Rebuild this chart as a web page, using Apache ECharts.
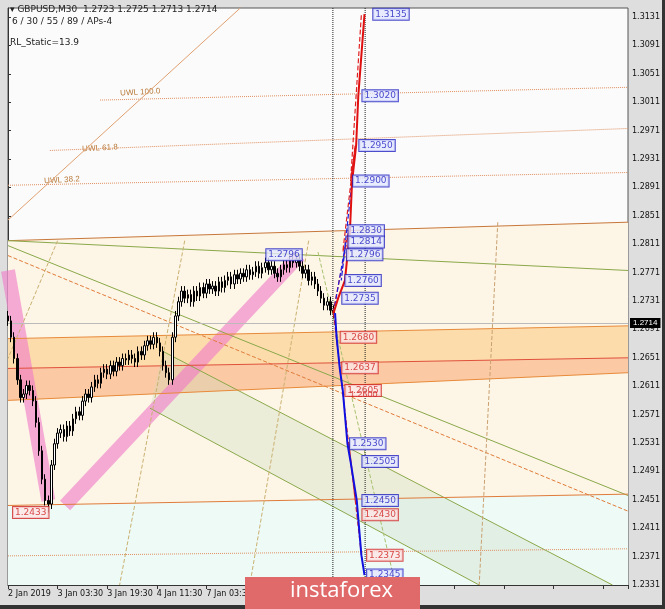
<!DOCTYPE html>
<html><head><meta charset="utf-8">
<script src="https://cdn.jsdelivr.net/npm/echarts@6/dist/echarts.min.js"></script>
<style>html,body{margin:0;padding:0;background:#dedede;}#c{width:665px;height:609px;}</style>
</head><body><div id="c"></div>
<script>
// ---- data ----
const closes = [1.2703,1.2680,1.2650,1.2620,1.2595,1.2600,1.2612,1.2605,1.2590,1.2560,1.2520,1.2480,1.2450,1.2445,
1.2500,1.2530,1.2545,1.2550,1.2540,1.2555,1.2548,1.2565,1.2575,1.2570,1.2590,
1.2600,1.2595,1.2610,1.2620,1.2615,1.2630,1.2635,1.2628,1.2640,1.2632,1.2645,1.2640,1.2650,1.2648,1.2655,
1.2650,1.2645,1.2660,1.2655,1.2668,1.2675,1.2670,1.2680,1.2672,1.2660,1.2640,1.2630,1.2620,
1.2680,1.2710,1.2730,1.2745,1.2735,1.2740,1.2730,1.2745,1.2738,1.2750,1.2742,1.2755,1.2748,1.2752,
1.2745,1.2758,1.2750,1.2760,1.2765,1.2755,1.2768,1.2762,1.2770,1.2765,
1.2775,1.2768,1.2772,1.2780,1.2770,1.2778,1.2785,1.2775,1.2780,1.2770,
1.2765,1.2775,1.2782,1.2778,1.2788,1.2785,1.2790,1.2780,1.2770,1.2775,1.2760,1.2765,1.2755,
1.2745,1.2735,1.2725,1.2730,1.2718,1.2714];
const firstOpen = 1.2710;
const lowIdx = 13, lowValue = 1.2433, highIdx = 93, highValue = 1.2796;
const xTickLabels = ['2 Jan 2019','3 Jan 03:30','3 Jan 19:30','4 Jan 11:30','7 Jan 03:30','7 Jan 19:30','8 Jan 11:30','9 Jan 03:30'];
const currentPrice = 1.2714;

const brownLine = [[0,1.2816],[200,1.2842]];
const greenLine1 = [[0,1.2816],[200,1.2774]];
const greenLine2 = [[0,1.2809],[200,1.2457]];
const greenLine3 = [[45.8,1.2580],[152,1.2331]];
const greenLine4 = [[50,1.2660],[195,1.2331]];
const orangeDash = [[0,1.2795],[200,1.2435]];
const orangeBottom = [[0,1.2443],[200,1.2459]];
const orangeDiag = [[0,1.2845],[75,1.3144]];
const bandTop = [[0,1.2678],[200,1.2696]];
const bandMid = [[0,1.2636],[200,1.2651]];
const bandBot = [[0,1.2591],[200,1.2630]];
const uwl100 = [[29.7,1.3014],[200,1.3032]];
const uwl618 = [[13.5,1.2943],[200,1.2974]];
const uwl382 = [[0,1.2894],[200,1.2912]];
const lwl382 = [[0,1.2372],[200,1.2382]];
const fan1 = [[57,1.2816],[36,1.2331]];
const fan2 = [[97,1.2816],[78,1.2331]];
const fan3 = [[158,1.2842],[152,1.2331]];
const fan4 = [[16,1.2816],[0,1.2650]];
const fan5 = [[100,1.2800],[125,1.2331]];
const pink1 = [[0,1.2774],[13,1.2450]];
const pink2 = [[18.4,1.2443],[94,1.2795]];
const vline1 = [[104.8,1.2331],[104.8,1.3144]];
const vline2 = [[115.2,1.2331],[115.2,1.3144]];

const redUp = [[105,1.2714],[106.5,1.2735],[108.7,1.2760],[110.3,1.2830],[111,1.2900],[112.3,1.2950],[113,1.3020],[115,1.3135]];
const redDash = [[104.8,1.2714],[110,1.2830],[108,1.2800],[112,1.2950],[110.5,1.2900],[114,1.3135]];
const redDashDown = [[105,1.2714],[112,1.2450],[110,1.2530],[114,1.2373]];
const blueDown = [[105.5,1.2714],[106,1.2680],[107,1.2637],[108,1.2605],[109.5,1.2530],[110.5,1.2505],[112.5,1.2450],[114,1.2373],[115,1.2345]];
const blueDashUp = [[105,1.2714],[109,1.2814],[107.5,1.2760],[111,1.2900]];

const blueLevels = [[117.5,1.3135],[114,1.3020],[113,1.2950],[111,1.2900],[109.5,1.2830],[109.5,1.2814],[109,1.2796],[108.5,1.2760],[107.5,1.2735],[110,1.2530],[114,1.2505],[114,1.2450],[115.5,1.2345],[83,1.2796]];
const redLevels = [[107,1.2680],[107.5,1.2637],[108.5,1.2605],[114,1.2430],[115.5,1.2373],[1.3,1.2433]];
const redTextLevels = [[110,1.2600]];

// ---- build ----
const candles = closes.map((c,i)=>{
  const o = i===0?firstOpen:closes[i-1];
  let lo = Math.min(o,c)-0.0007, hi = Math.max(o,c)+0.0007;
  if(i===lowIdx) lo = lowValue;
  if(i===highIdx) hi = highValue;
  return [i,o,c,lo,hi];
});
function line(data,color,width,type,z,opacity){
  return {type:'line',data,symbol:'none',silent:true,z:z||3,animation:false,
    lineStyle:{color,width:width||1,type:type||'solid',opacity:opacity==null?1:opacity}};
}
const polys = [
  {pts:[[0,1.2816],[200,1.2842],[200,1.2459],[0,1.2443]], color:'#fdf6e6'},
  {pts:[[0,1.2443],[200,1.2459],[200,1.2331],[0,1.2331]], color:'#eefaf6'},
  {pts:[[0,1.2678],[200,1.2696],[200,1.2651],[0,1.2636]], color:'#fddcac'},
  {pts:[[0,1.2636],[200,1.2651],[200,1.2630],[0,1.2591]], color:'#fbcaa4'},
  {pts:[[45.8,1.2580],[50,1.2660],[195,1.2331],[152,1.2331]], color:'rgba(200,215,190,0.3)'}
];
const levelLabel = (color,bg)=>({show:true,position:'right',distance:1,formatter:p=>p.value[1].toFixed(4),
  color,fontSize:9,fontFamily:'DejaVu Sans',backgroundColor:bg,borderColor:color,borderWidth:1,padding:[1,2]});

const chart = echarts.init(document.getElementById('c'));
chart.setOption({
  animation:false,
  backgroundColor:'#dedede',
  grid:{left:8,right:37,top:8,bottom:24,show:true,backgroundColor:'#fbfbfb',borderColor:'#555',borderWidth:1},
  xAxis:{type:'value',min:0,max:200,interval:16,
    axisLine:{show:true,lineStyle:{color:'#333'}},axisTick:{show:true,length:4,lineStyle:{color:'#333'}},
    splitLine:{show:false},
    axisLabel:{color:'#111',fontSize:8,fontFamily:'DejaVu Sans',align:'left',margin:5,
      formatter:v=>xTickLabels[Math.round(v/16)]||''}},
  yAxis:{type:'value',position:'right',min:1.2331,max:1.31437,interval:0.004,scale:true,
    axisLine:{show:true,lineStyle:{color:'#333'}},axisTick:{show:true,length:3,lineStyle:{color:'#333'}},
    splitLine:{show:false},
    axisLabel:{color:'#111',fontSize:8,fontFamily:'DejaVu Sans',margin:4,showMaxLabel:false,formatter:v=>v.toFixed(4)}},
  graphic:[
    {type:'text',left:10,top:5,style:{text:'▾ GBPUSD,M30  1.2723 1.2725 1.2713 1.2714',fontSize:9,fill:'#222',fontFamily:'DejaVu Sans'}},
    {type:'text',left:12,top:17,style:{text:'6 / 30 / 55 / 89 / APs-4',fontSize:9,fill:'#222',fontFamily:'DejaVu Sans'}},
    {type:'text',left:10,top:38,style:{text:'RL_Static=13.9',fontSize:9,fill:'#222',fontFamily:'DejaVu Sans'}},
    {type:'text',left:120,top:87,rotation:0.06,style:{text:'UWL 100.0',fontSize:8,fill:'#b87a3a'}},
    {type:'text',left:82,top:143,rotation:0.06,style:{text:'UWL 61.8',fontSize:8,fill:'#b87a3a'}},
    {type:'text',left:44,top:175,rotation:0.06,style:{text:'UWL 38.2',fontSize:8,fill:'#b87a3a'}},
    {type:'text',left:135,top:547,style:{text:'LWL 38.2',fontSize:8,fill:'#b87a3a'}},
    {type:'text',left:45,top:514,style:{text:'2',fontSize:9,fill:'#222'}},
    {type:'text',left:562,top:560,style:{text:'APLs & ZUP',fontSize:11,fill:'#333',fontFamily:'Liberation Serif'}},
    {type:'text',left:562,top:573,style:{text:'Geloz © mts.com',fontSize:7,fill:'#555',fontFamily:'Liberation Serif'}},
    {type:'rect',left:0,top:605,shape:{width:665,height:4},style:{fill:'#333'},z:99},
    {type:'rect',left:662,top:0,shape:{width:3,height:609},style:{fill:'#333'},z:99},
    {type:'rect',left:245,top:577,shape:{width:175,height:32},style:{fill:'#e06a6a'},z:100},
    {type:'text',left:290,top:580,z:101,style:{text:'instaforex',fontSize:22,fill:'#fff',fontFamily:'Open Sans'}}
  ],
  series:[
    {type:'custom',silent:true,z:1,data:polys.map((p,i)=>i),
      renderItem:(params,api)=>{const p=polys[params.dataIndex];
        return {type:'polygon',shape:{points:p.pts.map(q=>api.coord(q))},style:{fill:p.color}};}},
    line(pink1,'rgba(240,120,200,0.6)',14,'solid',2),
    line(pink2,'rgba(240,120,200,0.6)',14,'solid',2),
    line(brownLine,'#c8773a',1),
    line(greenLine1,'#8aa84a',1),
    line(greenLine2,'#8aa84a',1),
    line(greenLine3,'#8aa84a',1),
    line(greenLine4,'#8aa84a',1),
    line(orangeDash,'#e07b39',1,'dashed'),
    line(orangeBottom,'#e07b39',1),
    line(orangeDiag,'#e0a070',1),
    line(bandTop,'#e88a3a',1),
    line(bandMid,'#e0503a',1),
    line(bandBot,'#e88a3a',1),
    line(uwl100,'#e09060',1,'dotted'),
    line(uwl618,'#e09060',1,'dotted'),
    line(uwl382,'#e09060',1,'dotted'),
    line(lwl382,'#e09060',1,'dotted'),
    line(fan1,'#c9b070',1,'dashed'),
    line(fan2,'#c9b070',1,'dashed'),
    line(fan3,'#c9a070',1,'dashed'),
    line(fan4,'#c9b070',1,'dashed'),
    line(fan5,'#a8c070',1,'dashed'),
    line(vline1,'#222',1,'dotted'),
    line(vline2,'#222',1,'dotted'),
    {type:'candlestick',data:candles,barWidth:2,z:5,
      itemStyle:{color:'#fff',color0:'#000',borderColor:'#000',borderColor0:'#000',borderWidth:1},
      markLine:{silent:true,symbol:'none',data:[{yAxis:currentPrice}],
        lineStyle:{color:'#bbb',type:'solid',width:1},
        label:{show:true,position:'end',formatter:currentPrice.toFixed(4),color:'#fff',backgroundColor:'#000',fontSize:8,padding:[1,3],distance:2}}},
    line(redDash,'#e02020',1.2,'dashed',6),
    line(redDashDown,'#e02020',1.2,'dashed',6),
    line(blueDashUp,'#2020e0',1.2,'dashed',6),
    line(redUp,'#e01010',2,'solid',7),
    line(blueDown,'#1010e0',2,'solid',7),
    {type:'scatter',data:blueLevels,symbolSize:0,z:8,label:levelLabel('#2020c0','#e4e8ff')},
    {type:'scatter',data:redLevels,symbolSize:0,z:8,label:levelLabel('#d02020','#fde6e6')},
    {type:'scatter',data:redTextLevels,symbolSize:0,z:8,label:{show:true,position:'right',distance:1,formatter:p=>p.value[1].toFixed(4),color:'#d02020',fontSize:9}}
  ]
});
</script></body></html>
